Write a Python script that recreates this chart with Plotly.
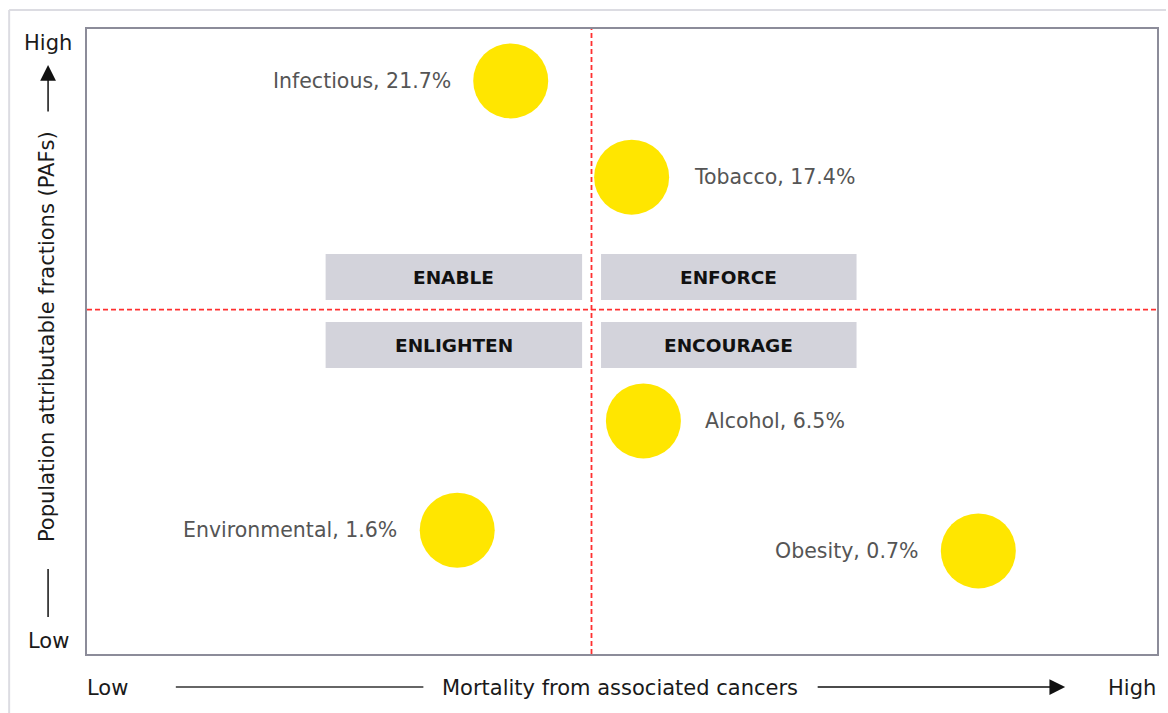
import plotly.graph_objects as go

# ---- data ----
categories = ["Infectious", "Tobacco", "Alcohol", "Environmental", "Obesity"]
paf_pct = [21.7, 17.4, 6.5, 1.6, 0.7]
mortality = [39.6, 50.9, 52.0, 34.6, 83.3]      # x position, 0-100 (Low -> High)
paf_level = [91.7, 76.3, 37.3, 19.8, 16.5]      # y position, 0-100 (Low -> High)
label_side = ["left", "right", "right", "left", "left"]

quadrants = ["ENABLE", "ENFORCE", "ENLIGHTEN", "ENCOURAGE"]
x_split = 47.15
y_split = 55.1

W, H = 1168, 713
L, R, T, B = 87, 9, 29, 59
PW, PH = W - L - R, H - T - B


def px(x):
    return (x - L) / PW


def py(y):
    return (H - B - y) / PH


FONT = "DejaVu Sans"
YELLOW = "#FFE600"

fig = go.Figure()
fig.add_trace(go.Scatter(
    x=mortality, y=paf_level, mode="markers",
    marker=dict(size=75, color=YELLOW, line=dict(width=0)),
    hoverinfo="skip", showlegend=False,
))

annotations = []
for c, p, x, y, side in zip(categories, paf_pct, mortality, paf_level, label_side):
    annotations.append(dict(
        x=x, y=y, xref="x", yref="y", text=f"{c}, {p}%",
        showarrow=False, xanchor="right" if side == "left" else "left", yanchor="middle",
        xshift=-58 if side == "left" else 60,
        font=dict(family=FONT, size=20.5, color="#555555"),
    ))

shapes = []
# quadrant boxes
box_x = [(22.3, 46.27), (48.04, 71.92), (22.3, 46.27), (48.04, 71.92)]
box_y = [(56.64, 64.0), (56.64, 64.0), (45.76, 53.12), (45.76, 53.12)]
for q, (x0, x1), (y0, y1) in zip(quadrants, box_x, box_y):
    shapes.append(dict(type="rect", xref="x", yref="y", x0=x0, x1=x1, y0=y0, y1=y1,
                       fillcolor="#D3D3DB", line=dict(width=0), layer="below"))
    annotations.append(dict(x=(x0 + x1) / 2, y=(y0 + y1) / 2, xref="x", yref="y",
                            xanchor="center", yanchor="middle",
                            text=f"<b>{q}</b>", showarrow=False,
                            font=dict(family=FONT, size=18.5, color="#111111")))

# dashed split lines
shapes.append(dict(type="line", xref="x", yref="paper", x0=x_split, x1=x_split, y0=0, y1=1,
                   line=dict(color="#FF3030", width=1.8, dash="5px,3px")))
shapes.append(dict(type="line", xref="paper", yref="y", x0=0, x1=1, y0=y_split, y1=y_split,
                   line=dict(color="#FF3030", width=1.8, dash="5px,3px")))

# outer light frame
shapes.append(dict(type="line", xref="paper", yref="paper", x0=px(9), x1=px(1168), y0=py(10), y1=py(10),
                   line=dict(color="#DCDCE2", width=2)))
shapes.append(dict(type="line", xref="paper", yref="paper", x0=px(9), x1=px(9), y0=py(10), y1=py(713),
                   line=dict(color="#DCDCE2", width=2)))

# axis decoration lines
shapes.append(dict(type="line", xref="paper", yref="paper", x0=px(48), x1=px(48), y0=py(569), y1=py(617),
                   line=dict(color="#111111", width=1.5)))
shapes.append(dict(type="line", xref="paper", yref="paper", x0=px(176), x1=px(424), y0=py(687), y1=py(687),
                   line=dict(color="#333333", width=1.5)))

# arrows
annotations.append(dict(x=px(48), y=py(65), xref="paper", yref="paper", ax=0, ay=48,
                        text="", showarrow=True, arrowhead=2, arrowsize=2.1, arrowwidth=1.5,
                        arrowcolor="#111111"))
annotations.append(dict(x=px(1067), y=py(687), xref="paper", yref="paper", ax=-249, ay=0,
                        text="", showarrow=True, arrowhead=2, arrowsize=2.1, arrowwidth=1.5,
                        arrowcolor="#111111"))

axis_font = dict(family=FONT, size=21, color="#1A1A1A")
axis_texts = [
    (48, 43, "High", 0),
    (48, 641, "Low", 0),
    (47, 337, "Population attributable fractions (PAFs)", -90),
    (108, 688, "Low", 0),
    (621, 688, "Mortality from associated cancers", 0),
    (1134, 688, "High", 0),
]
for xp, yp, txt, ang in axis_texts:
    annotations.append(dict(x=px(xp), y=py(yp), xref="paper", yref="paper", text=txt,
                            xanchor="center", yanchor="middle", textangle=ang,
                            showarrow=False, font=axis_font))

fig.update_layout(
    width=W, height=H, autosize=False,
    margin=dict(l=L, r=R, t=T, b=B, pad=0),
    paper_bgcolor="white", plot_bgcolor="white",
    xaxis=dict(range=[0, 100], showgrid=False, zeroline=False, showticklabels=False, ticks="",
               showline=True, mirror=True, linecolor="#8C8C99", linewidth=1.5, fixedrange=True),
    yaxis=dict(range=[0, 100], showgrid=False, zeroline=False, showticklabels=False, ticks="",
               showline=True, mirror=True, linecolor="#8C8C99", linewidth=1.5, fixedrange=True),
    shapes=shapes, annotations=annotations, showlegend=False,
)

fig.write_html("out.html", config={"displayModeBar": False},
               post_script="document.body.style.margin='0';document.body.style.padding='0';")
